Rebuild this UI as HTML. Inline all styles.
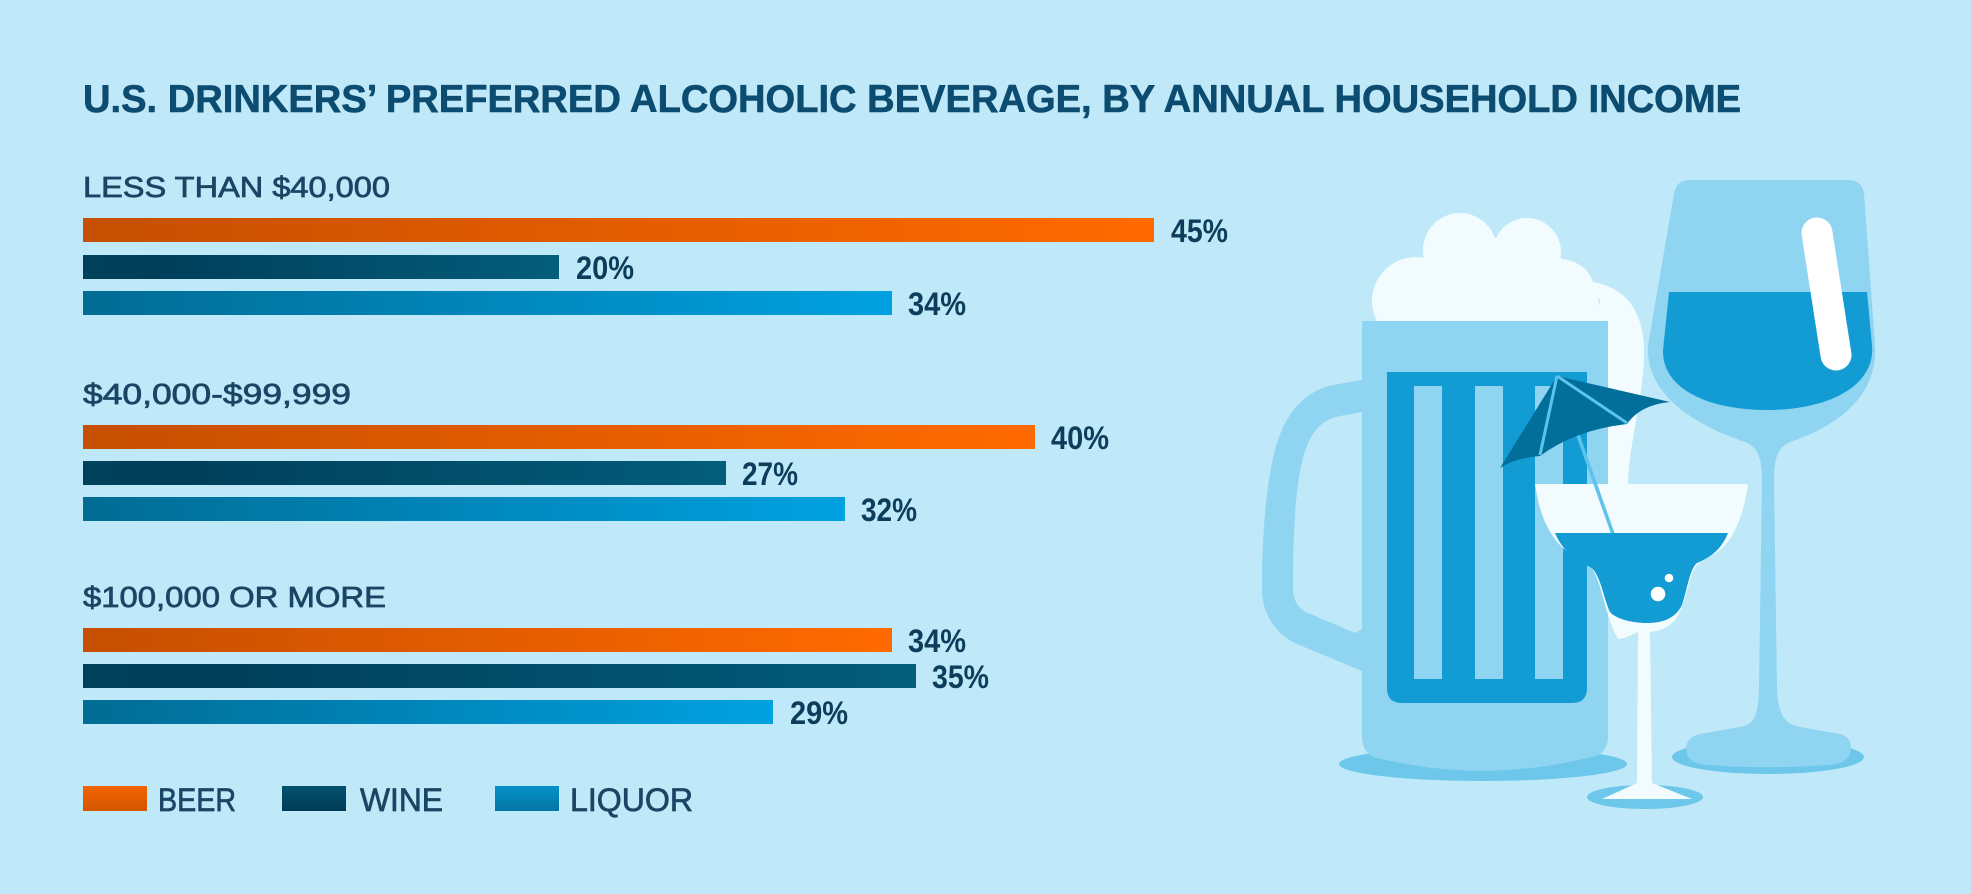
<!DOCTYPE html>
<html>
<head>
<meta charset="utf-8">
<style>
html,body{margin:0;padding:0;background:#bfe8f8;}
svg{display:block;}
text{font-family:"Liberation Sans",sans-serif;}
</style>
</head>
<body>
<svg width="1971" height="894" viewBox="0 0 1971 894" xmlns="http://www.w3.org/2000/svg">
<defs>
<linearGradient id="gO" x1="0" y1="0" x2="1" y2="0"><stop offset="0" stop-color="#c64f02"/><stop offset="0.5" stop-color="#e35c00"/><stop offset="1" stop-color="#ff6a00"/></linearGradient>
<linearGradient id="gW" x1="0" y1="0" x2="1" y2="0"><stop offset="0" stop-color="#02415b"/><stop offset="0.15" stop-color="#003f5a"/><stop offset="1" stop-color="#035d7b"/></linearGradient>
<linearGradient id="gL" x1="0" y1="0" x2="1" y2="0"><stop offset="0" stop-color="#016c94"/><stop offset="1" stop-color="#00a1e1"/></linearGradient>
<linearGradient id="lO" x1="0" y1="0" x2="0" y2="1"><stop offset="0" stop-color="#f26300"/><stop offset="1" stop-color="#d45600"/></linearGradient>
<linearGradient id="lW" x1="0" y1="0" x2="0" y2="1"><stop offset="0" stop-color="#03526f"/><stop offset="1" stop-color="#003b54"/></linearGradient>
<linearGradient id="lL" x1="0" y1="0" x2="0" y2="1"><stop offset="0" stop-color="#0591c8"/><stop offset="1" stop-color="#0275a3"/></linearGradient>
</defs>
<rect x="0" y="0" width="1971" height="894" fill="#bfe8f8"/>

<!-- Title -->
<text x="83" y="112" font-size="38.5" font-weight="bold" fill="#0c4c70" stroke="#0c4c70" stroke-width="0.6" textLength="1658" lengthAdjust="spacingAndGlyphs">U.S. DRINKERS’ PREFERRED ALCOHOLIC BEVERAGE, BY ANNUAL HOUSEHOLD INCOME</text>

<g fill="#1b4564" stroke="#1b4564" stroke-width="0.7">
<text x="83" y="197" font-size="28.5" textLength="307" lengthAdjust="spacingAndGlyphs">LESS THAN $40,000</text>
<text x="83" y="404" font-size="28.5" textLength="268" lengthAdjust="spacingAndGlyphs">$40,000-$99,999</text>
<text x="83" y="607" font-size="28.5" textLength="303" lengthAdjust="spacingAndGlyphs">$100,000 OR MORE</text>
<text x="158" y="811" font-size="32" textLength="78" lengthAdjust="spacingAndGlyphs">BEER</text>
<text x="360" y="811" font-size="32" textLength="83" lengthAdjust="spacingAndGlyphs">WINE</text>
<text x="570" y="811" font-size="32" textLength="123" lengthAdjust="spacingAndGlyphs">LIQUOR</text>
</g>

<!-- Group 1 -->
<rect x="83" y="218" width="1071" height="24" fill="url(#gO)"/>
<rect x="83" y="255" width="476" height="24" fill="url(#gW)"/>
<rect x="83" y="291" width="809" height="24" fill="url(#gL)"/>
<g font-size="32" font-weight="bold" fill="#0c3d5a">
<text x="1171" y="242" textLength="57" lengthAdjust="spacingAndGlyphs">45%</text>
<text x="576" y="279" textLength="58" lengthAdjust="spacingAndGlyphs">20%</text>
<text x="908" y="315" textLength="58" lengthAdjust="spacingAndGlyphs">34%</text>
<text x="1051" y="449" textLength="58" lengthAdjust="spacingAndGlyphs">40%</text>
<text x="742" y="485" textLength="56" lengthAdjust="spacingAndGlyphs">27%</text>
<text x="861" y="521" textLength="56" lengthAdjust="spacingAndGlyphs">32%</text>
<text x="908" y="652" textLength="58" lengthAdjust="spacingAndGlyphs">34%</text>
<text x="932" y="688" textLength="57" lengthAdjust="spacingAndGlyphs">35%</text>
<text x="790" y="724" textLength="58" lengthAdjust="spacingAndGlyphs">29%</text>
</g>

<!-- Group 2 -->
<rect x="83" y="425" width="952" height="24" fill="url(#gO)"/>
<rect x="83" y="461" width="643" height="24" fill="url(#gW)"/>
<rect x="83" y="497" width="762" height="24" fill="url(#gL)"/>

<!-- Group 3 -->
<rect x="83" y="628" width="809" height="24" fill="url(#gO)"/>
<rect x="83" y="664" width="833" height="24" fill="url(#gW)"/>
<rect x="83" y="700" width="690" height="24" fill="url(#gL)"/>

<!-- Legend -->
<rect x="83" y="786" width="64" height="25" fill="url(#lO)"/>
<rect x="282" y="786" width="64" height="25" fill="url(#lW)"/>
<rect x="495" y="786" width="64" height="25" fill="url(#lL)"/>

<!-- ===== Illustration ===== -->
<!-- Wine glass -->
<ellipse cx="1768" cy="757" rx="96" ry="17" fill="#6cc7ea"/>
<path fill="#8fd4f0" d="M1690,180 L1848,180 Q1862,180 1864,194 L1875,345 C1878,395 1840,425 1790,442 C1778,447 1774,458 1774,480 L1777,690 C1778,715 1785,724 1800,727 L1840,734 Q1851,737 1851,748 Q1850,764 1828,765 C1790,768 1745,768 1708,765 Q1686,764 1686,748 Q1687,737 1700,734 L1740,727 C1755,724 1758,715 1759,690 L1762,480 C1762,458 1758,447 1745,442 C1695,425 1645,395 1648,345 L1674,194 Q1676,180 1690,180 Z"/>
<path fill="#139cd4" d="M1669,292 L1867,292 L1872,345 C1876,385 1830,410 1767,410 C1710,410 1662,390 1663,350 Z"/>
<line x1="1817" y1="233" x2="1836" y2="355" stroke="#ffffff" stroke-width="31" stroke-linecap="round"/>

<!-- Beer mug -->
<ellipse cx="1483" cy="764" rx="144" ry="17" fill="#6cc7ea"/>
<g fill="#f2fbfe">
<circle cx="1416" cy="301" r="44"/>
<circle cx="1460" cy="250" r="37"/>
<circle cx="1527" cy="252" r="34"/>
<polygon points="1400,330 1423,258 1495,238 1560,258 1593,285 1608,330"/>
<path d="M1550,258 Q1585,258 1593,282 Q1640,290 1644,345 C1645,400 1628,440 1628,490 L1600,490 L1600,300 Z"/>
</g>
<path fill="#8fd4f0" d="M1362,380 L1333,385 C1300,392 1283,420 1275,450 C1265,490 1262,540 1262,590 C1262,615 1278,636 1297,644 L1362,671 L1362,629 L1355,633 L1308,613 C1298,609 1293,600 1293,588 C1293,540 1295,490 1302,462 C1308,437 1318,420 1340,416 L1362,412 Z"/>
<path fill="#8fd4f0" d="M1362,321 H1608 V736 Q1608,754 1592,757 Q1483,784 1377,758 Q1362,754 1362,736 Z"/>
<path fill="#139cd4" d="M1387,372 H1587 V688 Q1587,703 1572,703 H1402 Q1387,703 1387,688 Z"/>
<g fill="#8fd4f0">
<rect x="1414" y="386" width="28" height="293"/>
<rect x="1475" y="386" width="28" height="293"/>
<rect x="1535" y="386" width="28" height="293"/>
</g>

<!-- Cocktail glass -->
<ellipse cx="1645" cy="797" rx="58" ry="12" fill="#6cc7ea"/>
<path fill="#f2fbfe" d="M1535,484 L1748,484 C1745,505 1738,535 1720,550 C1710,558 1700,560 1695,568 C1688,580 1686,605 1675,620 C1668,628 1660,631 1650,632 L1652,783 L1692,799 L1602,799 L1637,783 L1638,632 C1632,634 1626,639 1618,639 C1612,630 1605,605 1600,587 C1595,570 1588,560 1575,556 C1553,545 1540,520 1535,484 Z"/>
<line x1="1557" y1="376" x2="1613" y2="534" stroke="#5cc3ec" stroke-width="3.5"/>
<path fill="#139cd4" d="M1555,533 H1728 C1722,548 1712,557 1697,563 C1690,568 1687,590 1682,605 C1676,617 1665,623 1647,623 C1630,623 1615,618 1610,612 C1604,600 1600,572 1590,567 C1575,560 1562,550 1555,533 Z"/>
<circle cx="1658" cy="594" r="7.3" fill="#ffffff"/>
<circle cx="1669" cy="578" r="4.3" fill="#ffffff"/>

<!-- Umbrella -->
<path fill="#016f99" d="M1557,376 L1670,402 Q1640,405 1627,424 Q1575,430 1540,456 Q1515,458 1500,468 Z"/>
<line x1="1557" y1="376" x2="1540" y2="455" stroke="#5cc3ec" stroke-width="3"/>
<line x1="1557" y1="376" x2="1627" y2="423" stroke="#5cc3ec" stroke-width="3"/>
</svg>
</body>
</html>
